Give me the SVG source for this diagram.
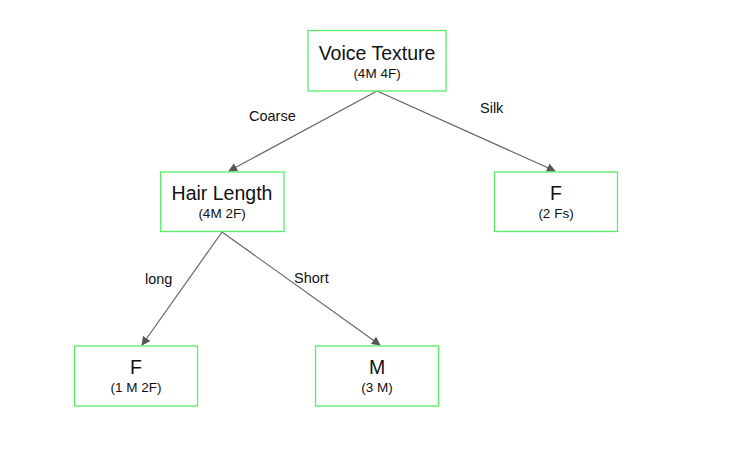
<svg xmlns="http://www.w3.org/2000/svg" width="735" height="454" viewBox="0 0 735 454">
<style>
.box{fill:#fff;stroke:#55ee66;stroke-width:1.3}
.t{font-family:"Liberation Sans",Arial,sans-serif;font-size:19.5px;fill:#111;text-anchor:middle}
.s{font-family:"Liberation Sans",Arial,sans-serif;font-size:13.5px;fill:#111;text-anchor:middle}
.l{font-family:"Liberation Sans",Arial,sans-serif;font-size:14.5px;fill:#111}
.e{stroke:#666;stroke-width:1.2;fill:none;marker-end:url(#a)}
</style>
<defs>
<marker id="a" viewBox="0 0 10 10" refX="9" refY="5" markerWidth="9" markerHeight="9" markerUnits="userSpaceOnUse" orient="auto">
<path d="M0,0 L10,5 L0,10 z" fill="#555"/>
</marker>
</defs>
<rect width="735" height="454" fill="#fff"/>
<g id="connectors">
<line class="e" x1="377" y1="91" x2="229" y2="171"/>
<line class="e" x1="377" y1="91" x2="555" y2="171"/>
<line class="e" x1="222" y1="232" x2="142" y2="345"/>
<line class="e" x1="222" y1="232" x2="380" y2="345"/>
<text class="l" x="249" y="121">Coarse</text>
<text class="l" x="480" y="113">Silk</text>
<text class="l" x="145" y="284">long</text>
<text class="l" x="294" y="283">Short</text>
</g>
<g id="voice">
<rect class="box" x="308" y="30.5" width="138" height="60.5"/>
<text class="t" x="377" y="60">Voice Texture</text>
<text class="s" x="377" y="78">(4M 4F)</text>
</g>
<g id="hair">
<rect class="box" x="160.5" y="172" width="123.5" height="59.5"/>
<text class="t" x="222" y="200">Hair Length</text>
<text class="s" x="222" y="218">(4M 2F)</text>
</g>
<g id="silk-f">
<rect class="box" x="494.5" y="172" width="123" height="59.5"/>
<text class="t" x="556" y="200">F</text>
<text class="s" x="556" y="218">(2 Fs)</text>
</g>
<g id="long-f">
<rect class="box" x="74.5" y="346" width="123" height="60"/>
<text class="t" x="136" y="374">F</text>
<text class="s" x="136" y="392">(1 M 2F)</text>
</g>
<g id="short-m">
<rect class="box" x="315.5" y="346" width="123" height="60"/>
<text class="t" x="377" y="374">M</text>
<text class="s" x="377" y="392">(3 M)</text>
</g>
</svg>
